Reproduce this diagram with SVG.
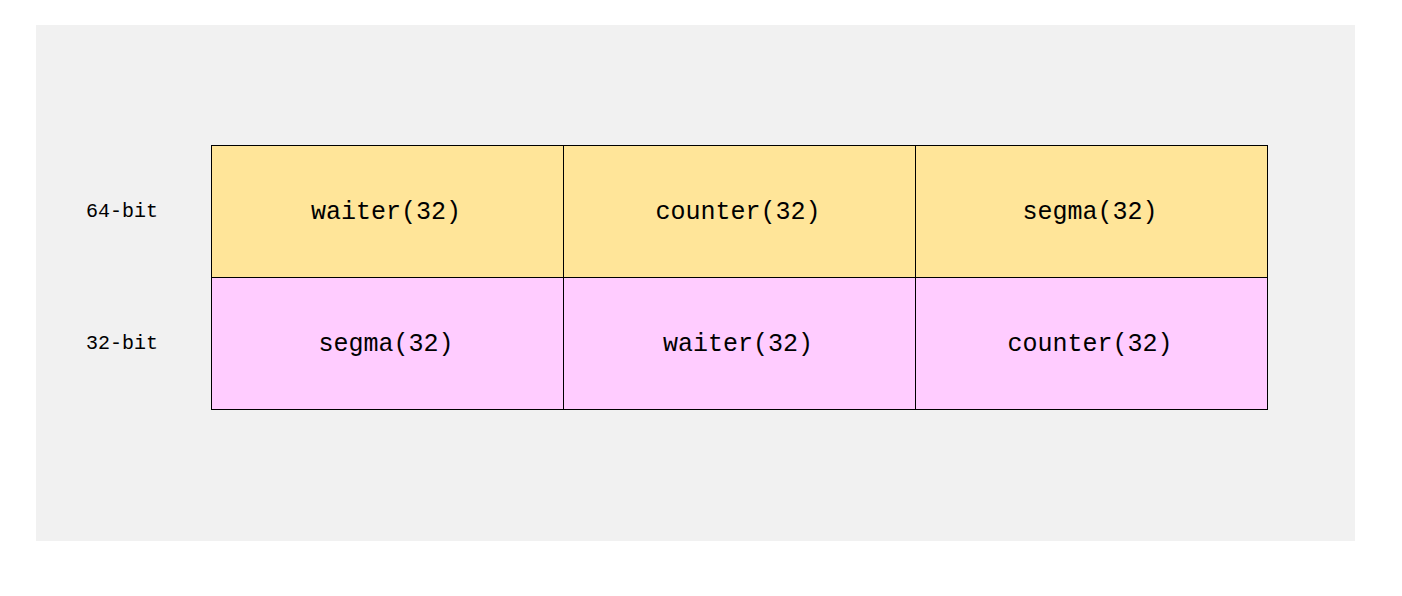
<svg xmlns="http://www.w3.org/2000/svg" width="1402" height="596" viewBox="0 0 1402 596">
<style>
.cell{stroke:#000;stroke-width:1}
.y{fill:#FFE599}
.p{fill:#FFCCFF}
.t{font-family:"Liberation Mono","DejaVu Sans Mono",monospace;font-size:25px;fill:#000;text-anchor:middle}
.l{font-family:"Liberation Mono","DejaVu Sans Mono",monospace;font-size:20px;fill:#000;text-anchor:middle}
</style>
<rect x="0" y="0" width="1402" height="596" fill="#FFFFFF"/>
<rect x="36" y="25" width="1319" height="516" fill="#F1F1F1"/>
<g id="label-64"><text class="l" x="122" y="217">64-bit</text></g>
<g id="label-32"><text class="l" x="122" y="349">32-bit</text></g>
<g id="r1c1"><rect class="cell y" x="211.5" y="145.5" width="352" height="132"/><text class="t" x="386" y="219">waiter(32)</text></g>
<g id="r1c2"><rect class="cell y" x="563.5" y="145.5" width="352" height="132"/><text class="t" x="738" y="219">counter(32)</text></g>
<g id="r1c3"><rect class="cell y" x="915.5" y="145.5" width="352" height="132"/><text class="t" x="1090" y="219">segma(32)</text></g>
<g id="r2c1"><rect class="cell p" x="211.5" y="277.5" width="352" height="132"/><text class="t" x="386" y="351">segma(32)</text></g>
<g id="r2c2"><rect class="cell p" x="563.5" y="277.5" width="352" height="132"/><text class="t" x="738" y="351">waiter(32)</text></g>
<g id="r2c3"><rect class="cell p" x="915.5" y="277.5" width="352" height="132"/><text class="t" x="1090" y="351">counter(32)</text></g>
<g id="connectors"></g>
</svg>
